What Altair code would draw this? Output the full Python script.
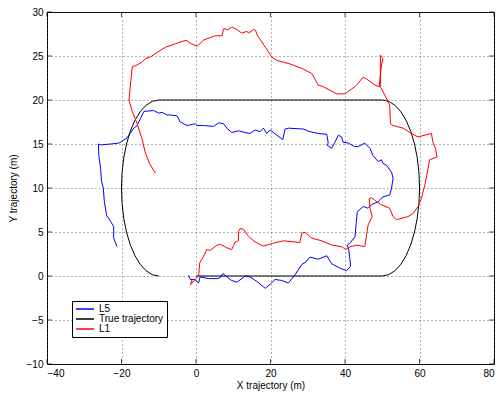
import altair as alt
import pandas as pd

# L5 trajectory (blue)
l5_x = [-2.0, -1.5, -0.3, 0.7, 1.1, 3.4, 5.6, 6.5, 7.2, 8.3, 9.5, 11.0, 13.2, 14.5, 16.3, 18.6, 20.0, 21.2, 23.0, 24.8,
        26.6, 28.4, 29.5, 30.6, 32.8, 35.1, 36.4, 38.6, 40.4, 41.5, 41.3, 41.0, 40.6, 41.5, 42.7, 43.0, 43.3, 44.9, 46.2, 47.1,
        48.9, 50.2, 52.0, 52.5, 52.9, 52.5, 51.1, 50.2, 49.8, 48.9, 47.5, 46.7, 45.3, 43.5, 42.6, 40.9, 39.5, 39.1, 38.2, 37.3,
        36.4, 35.1, 35.5, 35.1, 32.8, 30.6, 28.8, 24.8, 23.9, 23.3, 21.7, 19.9, 19.0, 18.1, 17.2, 15.9, 14.5, 13.2, 11.4, 9.6,
        8.3, 7.4, 6.1, 4.7, 2.0, 0.3, -0.2, -2.4, -4.2, -5.1, -6.9, -7.8, -9.1, -10.0, -11.4, -14.0, -14.9, -15.8, -16.7, -18.5,
        -20.7, -22.9, -25.6, -26.2, -26.1, -25.6, -25.4, -24.9, -24.6, -24.0, -22.9, -22.1, -22.1, -21.2]
l5_y = [0.1, -0.4, -0.4, -0.8, -0.1, -0.3, -0.3, -0.2, 0.3, -0.1, -0.5, -0.7, 0.0, -0.1, -0.6, -1.4, -0.9, -0.4, -0.5, -0.8,
        0.15, 1.3, 1.6, 2.15, 1.9, 2.3, 1.4, 0.9, 0.6, 1.1, 2.0, 3.0, 3.5, 3.8, 4.5, 6.0, 7.3, 7.9, 7.7, 8.1,
        8.45, 9.0, 9.2, 10.0, 11.1, 11.8, 12.6, 12.8, 13.2, 13.0, 13.7, 14.5, 15.1, 14.7, 14.7, 15.1, 15.2, 15.8, 16.0, 15.2,
        14.5, 14.9, 15.1, 16.1, 16.2, 16.4, 16.7, 16.8, 16.7, 15.5, 16.0, 16.6, 16.2, 16.8, 16.4, 16.6, 16.2, 16.3, 16.5, 16.3,
        16.8, 17.3, 17.4, 17.0, 17.1, 17.1, 17.3, 17.1, 17.5, 18.2, 18.3, 18.3, 18.6, 18.5, 18.8, 18.7, 17.9, 17.1, 16.8, 15.7,
        15.1, 15.0, 14.9, 15.0, 13.7, 12.2, 10.9, 10.0, 8.45, 6.9, 6.2, 5.6, 4.3, 3.35]

# L1 trajectory (red)
l1_x = [-1.0, -1.5, 0.0, 0.7, 1.0, 2.0, 2.9, 3.8, 5.6, 6.5, 8.3, 9.6, 10.5, 11.4, 11.4, 11.9, 12.8, 14.1, 15.9, 18.1,
        20.5, 23.5, 27.9, 28.4, 29.3, 31.1, 33.7, 36.6, 39.3, 40.2, 41.3, 43.0, 45.3, 45.8, 46.2, 47.3, 46.7, 46.5, 47.1, 48.5,
        49.8, 52.0, 52.9, 53.8, 56.9, 58.3, 59.6, 60.5, 61.4, 62.3, 62.7, 64.5, 64.7, 64.3, 63.6, 63.2, 59.6, 57.8, 55.6, 52.9,
        52.2, 52.0, 51.0, 49.5, 49.5, 49.5, 50.2, 49.8, 49.4, 49.2, 48.0, 45.8, 44.9, 43.1, 42.6, 40.0, 37.8, 36.0, 34.2, 32.8,
        31.9, 31.1, 28.4, 25.2, 21.7, 20.3, 18.6, 17.7, 16.5, 16.0, 15.4, 14.1, 13.7, 12.3, 11.0, 9.6, 8.7, 7.4, 7.0, 5.2,
        3.8, 2.0, 0.3, -1.3, -2.7, -5.5, -8.2, -10.4, -12.2, -13.6, -14.5, -16.2, -17.1, -17.6, -18.0, -17.1, -15.8, -14.5, -13.6, -12.5,
        -10.9]
l1_y = [-0.4, -1.0, -0.3, 0.0, 1.5, 2.2, 3.0, 2.9, 3.5, 3.6, 3.2, 3.0, 3.85, 4.0, 5.05, 5.4, 5.3, 4.5, 3.85, 3.4,
        3.7, 4.0, 3.8, 4.9, 4.95, 4.3, 4.0, 3.5, 3.3, 3.0, 3.3, 3.5, 3.35, 4.7, 5.8, 6.75, 7.7, 8.8, 8.9, 8.45,
        8.1, 7.7, 6.75, 6.4, 6.75, 7.1, 7.9, 8.8, 10.3, 12.2, 13.2, 13.5, 13.5, 14.5, 15.2, 16.2, 15.8, 16.2, 16.8, 17.1,
        17.3, 19.4, 20.3, 21.5, 23.0, 25.1, 24.7, 24.0, 22.5, 21.5, 21.7, 22.4, 22.6, 21.7, 21.5, 20.7, 20.7, 21.1, 21.5, 21.7,
        22.4, 23.0, 23.6, 24.1, 24.5, 24.9, 26.0, 26.6, 27.3, 27.9, 28.0, 27.6, 27.8, 27.6, 28.0, 28.3, 28.0, 28.1, 27.3, 27.3,
        27.1, 26.8, 26.1, 26.4, 26.8, 26.4, 26.0, 25.4, 24.9, 24.7, 24.3, 23.9, 23.8, 21.7, 20.0, 18.7, 17.3, 15.6, 14.0, 12.8,
        11.7]

# True trajectory (black)
true_x = [0, 50, 51.74, 53.42, 55, 56.43, 57.66, 58.66, 59.40, 59.85, 60, 59.85, 59.40, 58.66, 57.66, 56.43, 55, 53.42, 51.74, 50,
          -10, -11.74, -13.42, -15, -16.43, -17.66, -18.66, -19.40, -19.85, -20, -19.85, -19.40, -18.66, -17.66, -16.43, -15, -13.42, -11.74, -10]
true_y = [0, 0, 0.15, 0.60, 1.34, 2.34, 3.57, 5, 6.58, 8.26, 10, 11.74, 13.42, 15, 16.43, 17.66, 18.66, 19.40, 19.85, 20,
          20, 19.85, 19.40, 18.66, 17.66, 16.43, 15, 13.42, 11.74, 10, 8.26, 6.58, 5, 3.57, 2.34, 1.34, 0.60, 0.15, 0]

x_ticks = [-40, -20, 0, 20, 40, 60, 80]
y_ticks = [-10, -5, 0, 5, 10, 15, 20, 25, 30]

series_names = ["L5", "True trajectory", "L1"]
series_colors = ["#0000ff", "#000000", "#ff0000"]

frames = []
for name, xs, ys in [("L5", l5_x, l5_y), ("True trajectory", true_x, true_y), ("L1", l1_x, l1_y)]:
    frames.append(pd.DataFrame({"x": xs, "y": ys, "series": name, "i": range(len(xs))}))
df = pd.concat(frames, ignore_index=True)

W, H = 447, 352
FONT = "Liberation Sans"

xscale = alt.Scale(domain=[-40, 80], nice=False, zero=False)
yscale = alt.Scale(domain=[-10, 30], nice=False, zero=False)

lines = alt.Chart(df).mark_line(strokeWidth=1, clip=True).encode(
    x=alt.X("x:Q", scale=xscale,
            axis=alt.Axis(values=x_ticks, title="X trajectory (m)", grid=True, ticks=False, domain=False,
                          labelPadding=4, titlePadding=2, format="d")),
    y=alt.Y("y:Q", scale=yscale,
            axis=alt.Axis(values=y_ticks, title="Y trajectory (m)", grid=True, ticks=False, domain=False,
                          labelPadding=4, titlePadding=8, format="d")),
    color=alt.Color("series:N", scale=alt.Scale(domain=series_names, range=series_colors),
                    legend=alt.Legend(title=None, orient="none", legendX=25, legendY=289,
                                      symbolType="stroke", symbolSize=324, symbolStrokeWidth=1.5,
                                      labelFontSize=10, labelFont=FONT, labelColor="black",
                                      strokeColor="black", fillColor="white", padding=3,
                                      rowPadding=0, labelOffset=4, clipHeight=10)),
    order="i:Q",
)

xt_df = pd.DataFrame({"t": x_ticks})
yt_df = pd.DataFrame({"t": y_ticks})

xt_bottom = alt.Chart(xt_df).mark_tick(orient="vertical", size=5, thickness=1, color="black").encode(
    x=alt.X("t:Q", scale=xscale), y=alt.value(H - 2.5))
xt_top = alt.Chart(xt_df).mark_tick(orient="vertical", size=5, thickness=1, color="black").encode(
    x=alt.X("t:Q", scale=xscale), y=alt.value(2.5))
yt_left = alt.Chart(yt_df).mark_tick(orient="horizontal", size=5, thickness=1, color="black").encode(
    y=alt.Y("t:Q", scale=yscale), x=alt.value(2.5))
yt_right = alt.Chart(yt_df).mark_tick(orient="horizontal", size=5, thickness=1, color="black").encode(
    y=alt.Y("t:Q", scale=yscale), x=alt.value(W - 2.5))

chart = alt.layer(lines, xt_bottom, xt_top, yt_left, yt_right).properties(
    width=W, height=H,
    autosize=alt.AutoSizeParams(type="none"),
    padding={"left": 47, "top": 12, "right": 6, "bottom": 29},
    background="white",
).configure_view(
    stroke="black", strokeWidth=1
).configure_axis(
    labelFont=FONT, labelFontSize=10, labelColor="black",
    titleFont=FONT, titleFontSize=10, titleColor="black", titleFontWeight="normal",
    gridColor="#444444", gridDash=[1, 3], gridWidth=1, gridOpacity=0.8,
)

chart.save("out.html", embed_options={"renderer": "svg", "actions": False})
